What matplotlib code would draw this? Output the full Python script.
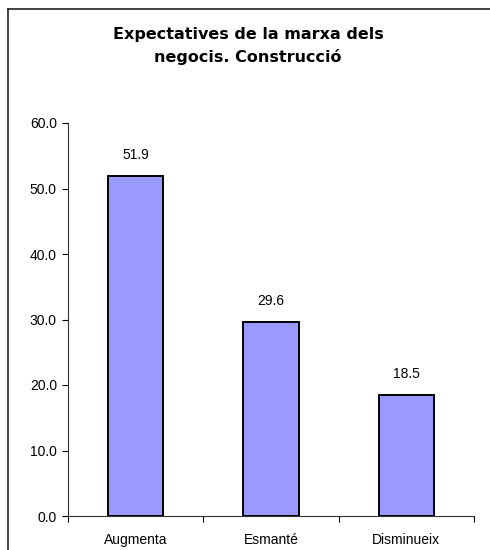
import numpy as np
import matplotlib
matplotlib.use('Agg')
import matplotlib.pyplot as plt
from matplotlib.lines import Line2D

categories = ['Augmenta', 'Esmanté', 'Disminueix']
values = [51.9, 29.6, 18.5]
yticks = [0, 10, 20, 30, 40, 50, 60]
title = 'Expectatives de la marxa dels\nnegocis. Construcció'

plt.rcParams['font.family'] = ['Liberation Sans', 'DejaVu Sans']

fig = plt.figure(figsize=(4.9, 5.5), dpi=100)
ax = fig.add_axes([68/490, 1-516/550, (474-68)/490, (516-123)/550])

x = np.arange(len(categories))
bars = ax.bar(x, values, width=0.41, color='#9999FF', edgecolor='black', linewidth=1.4)

for xi, v in zip(x, values):
    ax.annotate('%.1f' % v, (xi, v), xytext=(0, 10), textcoords='offset points',
                ha='center', va='bottom', fontsize=10)

ax.set_xlim(-0.5, len(categories) - 0.5)
ax.set_ylim(0, 60)
ax.set_yticks(yticks)
ax.set_yticklabels(['%.1f' % t for t in yticks])
ax.set_xticks(np.arange(len(categories) + 1) - 0.5)
ax.set_xticklabels([])
ax.set_xticks(x, minor=True)
ax.set_xticklabels(categories, minor=True)
ax.tick_params(axis='x', which='major', length=4, direction='out', color='black', width=0.8)
ax.tick_params(axis='x', which='minor', length=0, pad=12, labelsize=10)
ax.tick_params(axis='y', length=4, direction='out', width=0.8, pad=4, labelsize=10)

for s in ['top', 'right']:
    ax.spines[s].set_visible(False)
for s in ['left', 'bottom']:
    ax.spines[s].set_linewidth(0.8)
    ax.spines[s].set_color('#333333')

fig.text(0.506, 1-46/550, title, ha='center', va='center', fontsize=11.5,
         fontweight='bold', family='DejaVu Sans', linespacing=1.55)

# frame around the chart area (cut off at right and bottom)
fig.add_artist(Line2D([8/490, 1], [1-9/550, 1-9/550], color='#222222', lw=1.2))
fig.add_artist(Line2D([8/490, 8/490], [0, 1-9/550], color='#222222', lw=1.2))

fig.savefig('out.png', dpi=100)
